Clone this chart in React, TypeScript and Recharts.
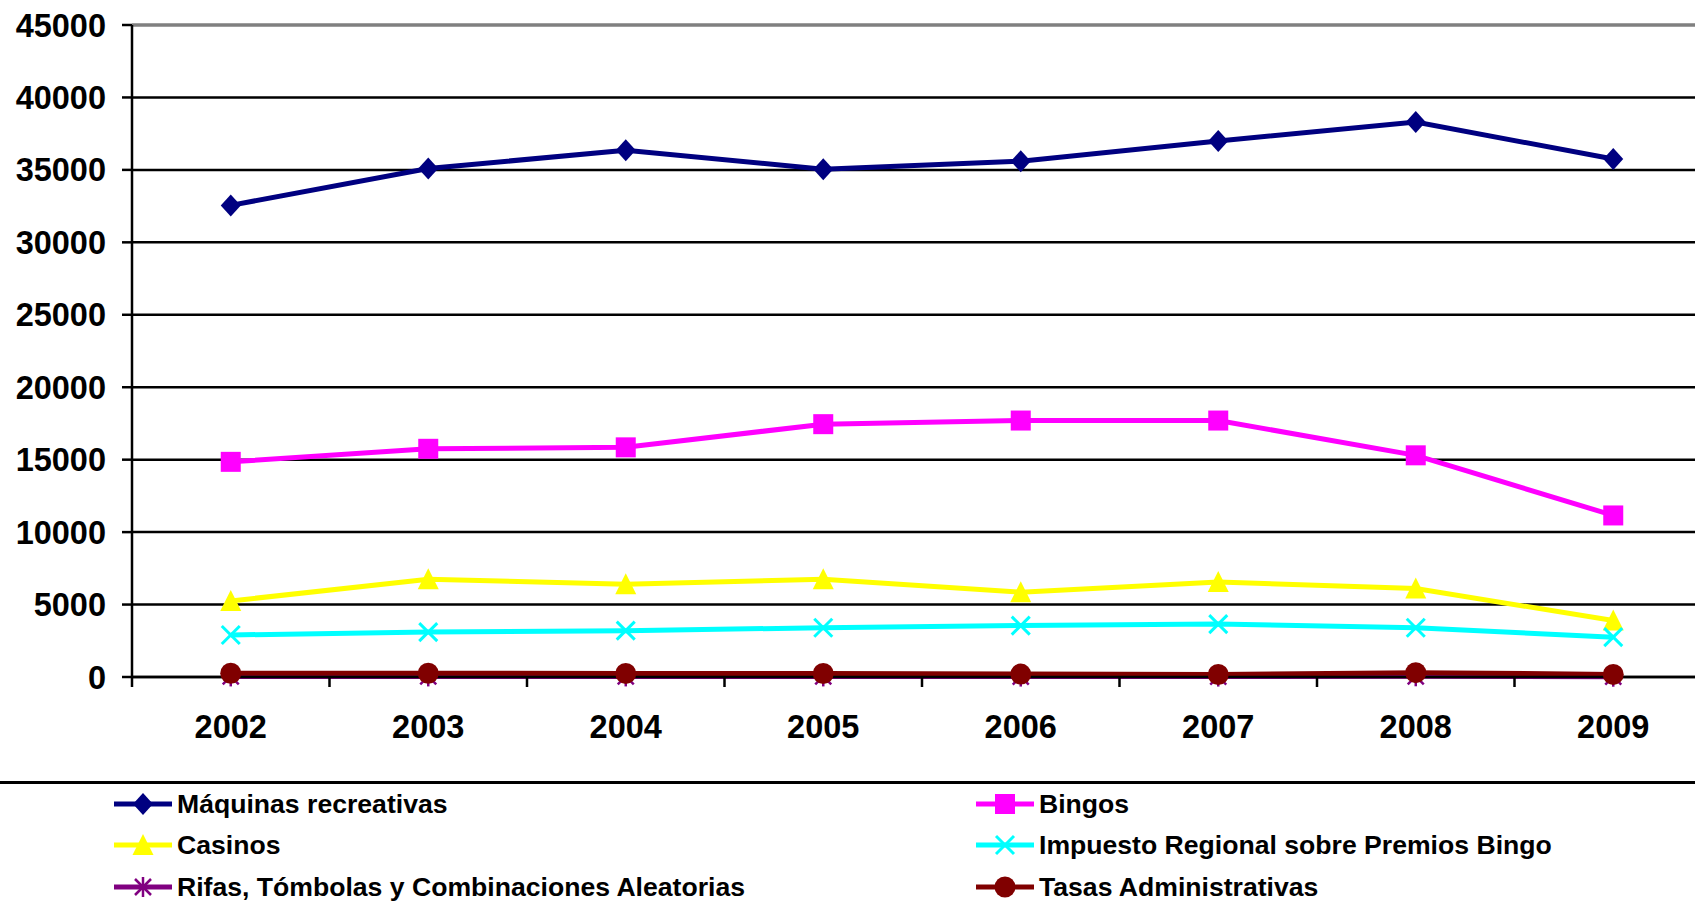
import React from 'react';
import { LineChart, Line, XAxis, YAxis, CartesianGrid, ReferenceLine } from 'recharts';

const years = ['2002', '2003', '2004', '2005', '2006', '2007', '2008', '2009'];
const maquinas = [32550, 35100, 36350, 35050, 35600, 37000, 38300, 35750];
const bingos = [14850, 15750, 15850, 17450, 17700, 17700, 15300, 11150];
const casinos = [5250, 6750, 6400, 6750, 5850, 6550, 6100, 3900];
const impuesto = [2900, 3100, 3200, 3400, 3550, 3650, 3400, 2750];
const rifas = [40, 40, 40, 40, 30, 30, 50, 20];
const tasas = [260, 260, 250, 240, 200, 170, 300, 180];
const yTicks = [0, 5000, 10000, 15000, 20000, 25000, 30000, 35000, 40000, 45000];
const xTicks = [-0.5, 0, 0.5, 1, 1.5, 2, 2.5, 3, 3.5, 4, 4.5, 5, 5.5, 6, 6.5, 7, 7.5];

const FONT = '"Liberation Sans", Arial, Helvetica, sans-serif';

type Marker = 'diamond' | 'square' | 'triangle' | 'x' | 'star' | 'circle';

const series: { key: string; name: string; color: string; marker: Marker; values: number[] }[] = [
  { key: 'maquinas', name: 'Máquinas recreativas', color: '#000080', marker: 'diamond', values: maquinas },
  { key: 'bingos', name: 'Bingos', color: '#FF00FF', marker: 'square', values: bingos },
  { key: 'casinos', name: 'Casinos', color: '#FFFF00', marker: 'triangle', values: casinos },
  { key: 'impuesto', name: 'Impuesto Regional sobre Premios Bingo', color: '#00FFFF', marker: 'x', values: impuesto },
  { key: 'rifas', name: 'Rifas, Tómbolas y Combinaciones Aleatorias', color: '#800080', marker: 'star', values: rifas },
  { key: 'tasas', name: 'Tasas Administrativas', color: '#800000', marker: 'circle', values: tasas },
];

const data = years.map((y, i) => {
  const row: Record<string, number | string> = { idx: i, year: y };
  series.forEach((s) => {
    row[s.key] = s.values[i];
  });
  return row;
});

function drawMarker(marker: Marker, cx: number, cy: number, color: string, key?: string | number) {
  switch (marker) {
    case 'diamond':
      return <polygon key={key} points={`${cx},${cy - 11} ${cx + 10},${cy} ${cx},${cy + 11} ${cx - 10},${cy}`} fill={color} />;
    case 'square':
      return <rect key={key} x={cx - 10} y={cy - 10} width={20} height={20} fill={color} />;
    case 'triangle':
      return <polygon key={key} points={`${cx},${cy - 11} ${cx + 10.5},${cy + 10} ${cx - 10.5},${cy + 10}`} fill={color} />;
    case 'x':
      return (
        <g key={key} stroke={color} strokeWidth={3}>
          <line x1={cx - 9} y1={cy - 9} x2={cx + 9} y2={cy + 9} />
          <line x1={cx - 9} y1={cy + 9} x2={cx + 9} y2={cy - 9} />
        </g>
      );
    case 'star':
      return (
        <g key={key} stroke={color} strokeWidth={2.5}>
          <line x1={cx - 8} y1={cy - 8} x2={cx + 8} y2={cy + 8} />
          <line x1={cx - 8} y1={cy + 8} x2={cx + 8} y2={cy - 8} />
          <line x1={cx} y1={cy - 10} x2={cx} y2={cy + 10} />
        </g>
      );
    case 'circle':
    default:
      return <circle key={key} cx={cx} cy={cy} r={10.5} fill={color} />;
  }
}

const XTick = (props: any) => {
  const { x, y, payload } = props;
  const v = payload.value as number;
  if (Number.isInteger(v)) {
    return (
      <text x={x} y={y + 51} textAnchor="middle" fontSize={32.5} fontWeight="bold" fill="#000" fontFamily={FONT}>
        {years[v]}
      </text>
    );
  }
  return <line x1={x} x2={x} y1={y - 10} y2={y} stroke="#000" strokeWidth={2.5} />;
};

const legendRows = [803.5, 845, 887];
const legendCols = [112, 974];

export default function App() {
  return (
    <div style={{ position: 'absolute', left: 0, top: 0, width: 1695, height: 910, overflow: 'hidden', background: '#fff', fontFamily: FONT }}>
      <div style={{ position: 'absolute', left: 0, top: 0 }}>
        <LineChart width={1730} height={782} data={data} margin={{ top: 25, right: 18, bottom: 45, left: 0 }}>
          <CartesianGrid vertical={false} stroke="#000" strokeWidth={2.5} />
          <ReferenceLine y={45000} stroke="#808080" strokeWidth={3} />
          <XAxis
            dataKey="idx"
            type="number"
            domain={[-0.5, 7.5]}
            ticks={xTicks}
            interval={0}
            height={60}
            tickLine={false}
            tickSize={10}
            tickMargin={0}
            axisLine={{ stroke: '#000', strokeWidth: 2.5 }}
            tick={<XTick />}
          />
          <YAxis
            type="number"
            domain={[0, 45000]}
            ticks={yTicks}
            interval={0}
            width={132}
            tickSize={10}
            tickMargin={16}
            tickLine={{ stroke: '#000', strokeWidth: 2.5 }}
            axisLine={{ stroke: '#000', strokeWidth: 2.5 }}
            tick={{ fontSize: 32.5, fontWeight: 'bold', fill: '#000', fontFamily: FONT }}
          />
          {series.map((s) => (
            <Line
              key={s.key}
              dataKey={s.key}
              name={s.name}
              stroke={s.color}
              strokeWidth={5}
              isAnimationActive={false}
              dot={(p: any) => drawMarker(s.marker, p.cx, p.cy, s.color, `${s.key}-${p.index}`)}
              activeDot={false}
            />
          ))}
        </LineChart>
      </div>
      <div style={{ position: 'absolute', left: 0, top: 781, width: 1695, height: 3, background: '#000' }} />
      {series.map((s, i) => {
        const col = legendCols[i % 2];
        const rowY = legendRows[Math.floor(i / 2)];
        return (
          <div key={s.key}>
            <svg style={{ position: 'absolute', left: col, top: rowY - 15 }} width={62} height={30}>
              <line x1={2} x2={60} y1={15} y2={15} stroke={s.color} strokeWidth={5} />
              {drawMarker(s.marker, 31, 15, s.color)}
            </svg>
            <div
              style={{
                position: 'absolute',
                left: col + 65,
                top: rowY - 15,
                height: 30,
                lineHeight: '30px',
                fontSize: 26.6,
                fontWeight: 'bold',
                color: '#000',
                whiteSpace: 'nowrap',
              }}
            >
              {s.name}
            </div>
          </div>
        );
      })}
    </div>
  );
}
